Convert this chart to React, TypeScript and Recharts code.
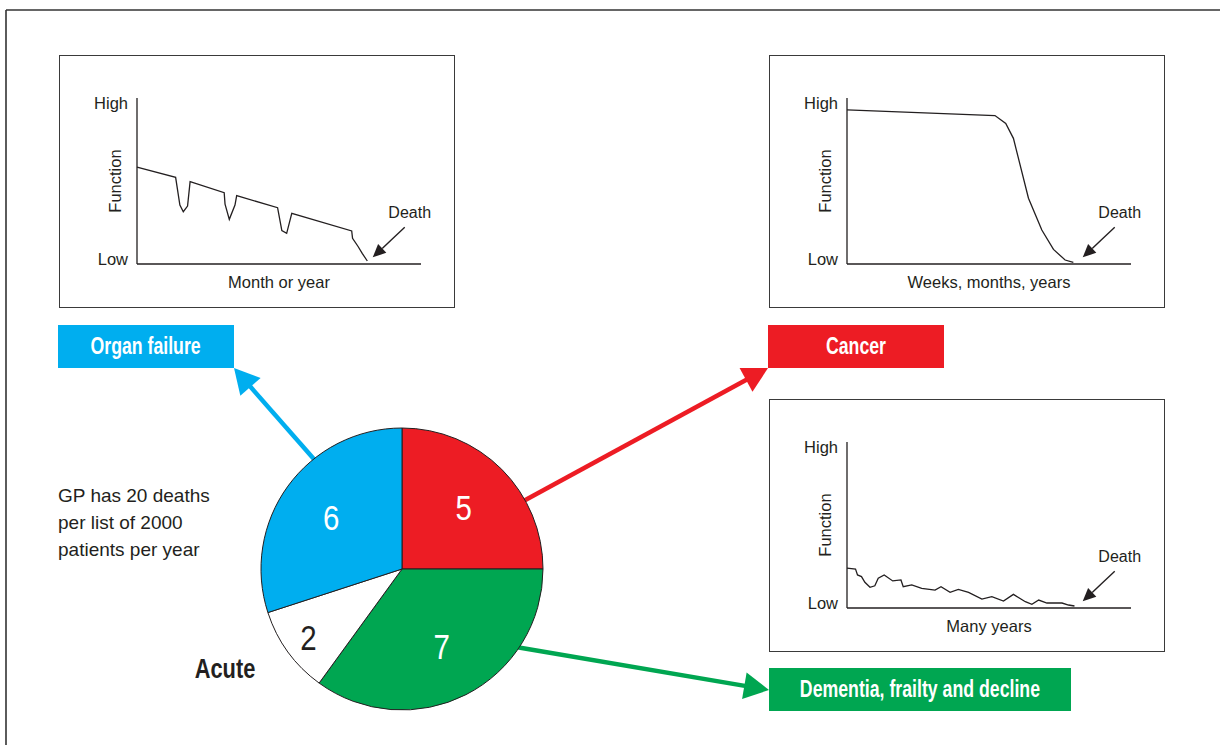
import React from 'react';
import { LineChart, Line, XAxis, YAxis, ReferenceDot, PieChart, Pie, Cell } from 'recharts';

const FONT = "'Liberation Sans', Arial, Helvetica, sans-serif";
const INK = '#231F20';
const NARROW = 0.77;

// Axis texts
const Y_TICKS = [0, 100];
const Y_TICK_LABELS = ['Low', 'High'];
const Y_TITLE = 'Function';
const DEATH_LABEL = 'Death';
const DEATH_X = 83;
const DEATH_V = 4;

// Organ failure trajectory
const ORGAN_X = [0, 13.6, 15.1, 16.3, 17.8, 18.7, 30.7, 31, 32.5, 34.5, 35.1, 49.5, 51, 52.7, 54.5, 75.6, 75.9, 77.9, 79.3, 81.1];
const ORGAN_V = [58.3, 52.2, 35.5, 31.5, 34.9, 49.6, 43, 36.1, 26.9, 35.5, 41.2, 33.9, 20.1, 18.5, 30.5, 19.9, 15.5, 10.4, 6.4, 1.8];

// Cancer trajectory
const CANCER_X = [0, 52.1, 55.9, 58.6, 63.9, 68.6, 72.7, 76.8, 79.7];
const CANCER_V = [92.8, 89.4, 84.7, 75.7, 39.6, 20.5, 8.8, 2.4, 1];

// Dementia trajectory
const DEMENTIA_X = [0, 3, 3.7, 5.1, 6.3, 8.1, 9.8, 11, 13.1, 16.1, 19, 19.8, 22.8, 26.3, 31, 33.1, 36.3, 39.2, 42.8, 47.5, 51, 55.1, 58.6, 62.8, 65.1, 67.5, 70.4, 75.7, 78, 80.1];
const DEMENTIA_V = [24, 23.5, 19.9, 18.9, 15.5, 12.5, 13.4, 17.9, 19.9, 16.3, 16.9, 12.8, 13.9, 11.8, 10.8, 12.8, 9.4, 11.2, 9.4, 5.4, 6.8, 4.2, 8.2, 3.8, 2.2, 4.8, 3, 3, 1.8, 1.2];

const X_LABELS = ['Month or year', 'Weeks, months, years', 'Many years'];

// Pie
const PIE_NAMES = ['Cancer', 'Dementia, frailty and decline', 'Acute', 'Organ failure'];
const PIE_VALUES = [5, 7, 2, 6];
const PIE_COLORS = ['#ED1C24', '#00A651', '#FFFFFF', '#00AEEF'];
const PIE_LABEL_COLORS = ['#FFFFFF', '#FFFFFF', INK, '#FFFFFF'];

const NOTE_LINES = ['GP has 20 deaths', 'per list of 2000', 'patients per year'];

const toData = (xs: number[], vs: number[]) => xs.map((x, i) => ({ x, v: vs[i] }));

function NarrowText({ x, y, children, size, weight, fill, anchor = 'middle', scale = NARROW }: any) {
  return (
    <text
      transform={`translate(${x} ${y}) scale(${scale} 1)`}
      x={0}
      y={0}
      textAnchor={anchor}
      dominantBaseline="central"
      fontFamily={FONT}
      fontSize={size}
      fontWeight={weight}
      fill={fill}
    >
      {children}
    </text>
  );
}

function DeathArrow(props: any) {
  const { cx, cy } = props;
  if (cx == null || cy == null) return null;
  const tx = cx + 32;
  const ty = cy - 30;
  const dx = cx - tx;
  const dy = cy - ty;
  const len = Math.hypot(dx, dy);
  const ux = dx / len;
  const uy = dy / len;
  const head = 13;
  const hw = 6;
  const bx = cx - ux * head;
  const by = cy - uy * head;
  const p1 = `${bx - uy * hw},${by + ux * hw}`;
  const p2 = `${bx + uy * hw},${by - ux * hw}`;
  return (
    <g>
      <line x1={tx} y1={ty} x2={bx} y2={by} stroke={INK} strokeWidth={1.4} />
      <polygon points={`${cx},${cy} ${p1} ${p2}`} fill={INK} />
      <text x={cx + 37} y={cy - 45} textAnchor="middle" dominantBaseline="central" fontFamily={FONT} fontSize={16} fill={INK}>
        {DEATH_LABEL}
      </text>
    </g>
  );
}

function YTick(props: any) {
  const { y, payload } = props;
  const idx = Y_TICKS.indexOf(payload.value);
  const label = Y_TICK_LABELS[idx];
  const dy = payload.value === 100 ? 5 : -5;
  return (
    <text x={68} y={y + dy} textAnchor="end" dominantBaseline="central" fontFamily={FONT} fontSize={16.5} fill={INK}>
      {label}
    </text>
  );
}

function Panel({ left, top, data, xLabel }: { left: number; top: number; data: { x: number; v: number }[]; xLabel: string }) {
  return (
    <div
      style={{
        position: 'absolute',
        left,
        top,
        width: 396,
        height: 253,
        border: '1.4px solid #3a3a3a',
        boxSizing: 'border-box',
        background: '#fff',
      }}
    >
      <LineChart width={394} height={251} data={data} margin={{ top: 42, right: 33, bottom: 42, left: 76 }}>
        <XAxis
          type="number"
          dataKey="x"
          domain={[0, 100]}
          tick={false}
          tickLine={false}
          height={1}
          axisLine={{ stroke: INK, strokeWidth: 1.3 }}
        />
        <YAxis
          type="number"
          domain={[0, 100]}
          ticks={Y_TICKS}
          tick={<YTick />}
          tickLine={false}
          width={1}
          axisLine={{ stroke: INK, strokeWidth: 1.3 }}
        />
        <Line type="linear" dataKey="v" stroke={INK} strokeWidth={1.3} dot={false} isAnimationActive={false} />
        <ReferenceDot x={DEATH_X} y={DEATH_V} r={0} shape={(p: any) => <DeathArrow cx={p.cx} cy={p.cy} />} />
      </LineChart>
      <svg width={394} height={251} style={{ position: 'absolute', left: 0, top: 0, pointerEvents: 'none' }}>
        <text
          x={55}
          y={125}
          transform="rotate(-90 55 125)"
          textAnchor="middle"
          dominantBaseline="central"
          fontFamily={FONT}
          fontSize={16.5}
          fill={INK}
        >
          {Y_TITLE}
        </text>
        <text x={219} y={226} textAnchor="middle" dominantBaseline="central" fontFamily={FONT} fontSize={16.5} fill={INK}>
          {xLabel}
        </text>
      </svg>
    </div>
  );
}

function Arrow({ tail, tip, color }: { tail: [number, number]; tip: [number, number]; color: string }) {
  const dx = tip[0] - tail[0];
  const dy = tip[1] - tail[1];
  const len = Math.hypot(dx, dy);
  const ux = dx / len;
  const uy = dy / len;
  const head = 25;
  const hw = 13.5;
  const bx = tip[0] - ux * head;
  const by = tip[1] - uy * head;
  return (
    <g>
      <line x1={tail[0]} y1={tail[1]} x2={bx + ux * 2} y2={by + uy * 2} stroke={color} strokeWidth={4.5} />
      <polygon points={`${tip[0]},${tip[1]} ${bx - uy * hw},${by + ux * hw} ${bx + uy * hw},${by - ux * hw}`} fill={color} />
    </g>
  );
}

const RADIAN = Math.PI / 180;
function renderPieLabel(p: any) {
  const { cx, cy, midAngle, outerRadius, percent, index } = p;
  const r = outerRadius * (percent < 0.15 ? 0.82 : 0.62);
  const x = cx + r * Math.cos(-midAngle * RADIAN);
  const y = cy + r * Math.sin(-midAngle * RADIAN);
  return (
    <NarrowText x={x} y={y} size={36} fill={PIE_LABEL_COLORS[index]} scale={0.82}>
      {PIE_VALUES[index]}
    </NarrowText>
  );
}

function LabelBox({ left, top, width, color, text }: { left: number; top: number; width: number; color: string; text: string }) {
  return (
    <div
      style={{
        position: 'absolute',
        left,
        top,
        width,
        height: 43,
        background: color,
        color: '#fff',
        fontFamily: FONT,
        fontWeight: 'bold',
        fontSize: 23,
        display: 'flex',
        alignItems: 'center',
        justifyContent: 'center',
        overflow: 'visible',
      }}
    >
      <span style={{ display: 'inline-block', whiteSpace: 'nowrap', transform: `scaleX(${NARROW})`, transformOrigin: 'center' }}>{text}</span>
    </div>
  );
}

export default function App() {
  const pieData = PIE_NAMES.map((name, i) => ({ name, value: PIE_VALUES[i] }));
  return (
    <div style={{ position: 'absolute', left: 0, top: 0, width: 1220, height: 745, background: '#fff', overflow: 'hidden' }}>
      <svg width={1220} height={745} style={{ position: 'absolute', left: 0, top: 0 }}>
        <line x1={6} y1={10} x2={1220} y2={10} stroke="#333" strokeWidth={1.6} />
        <line x1={6} y1={10} x2={6} y2={745} stroke="#333" strokeWidth={1.6} />
        <Arrow tail={[320, 466]} tip={[234, 368]} color={PIE_COLORS[3]} />
        <Arrow tail={[518, 504]} tip={[768, 368]} color={PIE_COLORS[0]} />
        <Arrow tail={[510, 646]} tip={[769, 690]} color={PIE_COLORS[1]} />
      </svg>

      <Panel left={59} top={55} data={toData(ORGAN_X, ORGAN_V)} xLabel={X_LABELS[0]} />
      <Panel left={769} top={55} data={toData(CANCER_X, CANCER_V)} xLabel={X_LABELS[1]} />
      <Panel left={769} top={399} data={toData(DEMENTIA_X, DEMENTIA_V)} xLabel={X_LABELS[2]} />

      <LabelBox left={58} top={325} width={176} color={PIE_COLORS[3]} text={PIE_NAMES[3]} />
      <LabelBox left={768} top={325} width={176} color={PIE_COLORS[0]} text={PIE_NAMES[0]} />
      <LabelBox left={769} top={668} width={302} color={PIE_COLORS[1]} text={PIE_NAMES[1]} />

      <div style={{ position: 'absolute', left: 252, top: 419 }}>
        <PieChart width={300} height={300} margin={{ top: 0, right: 0, bottom: 0, left: 0 }}>
          <Pie
            data={pieData}
            dataKey="value"
            nameKey="name"
            cx={150}
            cy={150}
            outerRadius={141}
            startAngle={90}
            endAngle={-270}
            stroke={INK}
            strokeWidth={1}
            label={renderPieLabel}
            labelLine={false}
            isAnimationActive={false}
          >
            {pieData.map((d, i) => (
              <Cell key={d.name} fill={PIE_COLORS[i]} />
            ))}
          </Pie>
        </PieChart>
      </div>

      <svg width={1220} height={745} style={{ position: 'absolute', left: 0, top: 0, pointerEvents: 'none' }}>
        {NOTE_LINES.map((t, i) => (
          <text key={t} x={58} y={495 + i * 27} dominantBaseline="central" fontFamily={FONT} fontSize={19} fill={INK}>
            {t}
          </text>
        ))}
        <NarrowText x={225} y={668} size={28} weight="bold" fill={INK} scale={0.78}>
          {PIE_NAMES[2]}
        </NarrowText>
      </svg>
    </div>
  );
}
